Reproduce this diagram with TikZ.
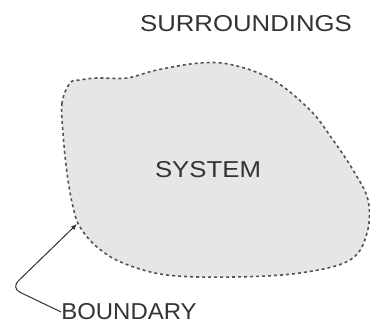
\documentclass[tikz,border=0pt]{standalone}
\usepackage{fontspec}
\setmainfont{Liberation Sans}
\usetikzlibrary{arrows.meta}
\definecolor{sysgray}{HTML}{E6E6E6}
\definecolor{inkgray}{HTML}{333333}
\tikzset{
    lbl/.style={text=inkgray, font=\fontsize{23}{26}\selectfont, inner sep=0pt, xscale=1.12, transform shape},
    blob/.style={fill=sysgray, draw=inkgray!85, line width=1.6pt, dash pattern=on 3pt off 3pt}
}
\begin{document}
\begin{tikzpicture}[x=1pt,y=1pt]
        \useasboundingbox (0,0) rectangle (370,326);

        \draw[blob] plot[smooth cycle, tension=0.6] coordinates {
            (70,243) (62,223) (63,193) (67,153) (73,119) (80,99) (97,79) (123,63)
            (167,51) (233,49) (300,53) (350,66) (367,93) (368,126) (353,156)
            (333,186) (310,216) (273,246) (233,261) (200,263) (157,256)
            (127,248) (97,248) (80,246)};

        \node[lbl] (surr) at (246,302) {SURROUNDINGS};
        \node[lbl] (sys) at (208,156) {SYSTEM};
        \node[lbl, xscale=0.93] (bnd) at (129,14) {BOUNDARY};

        \coordinate (tip) at (77,102);
        \draw[inkgray, line width=1pt, -{Latex[length=6pt,width=5pt]}, rounded corners=10pt]
            (bnd.west) -- (11,38) -- (tip);
    \end{tikzpicture}
\end{document}
